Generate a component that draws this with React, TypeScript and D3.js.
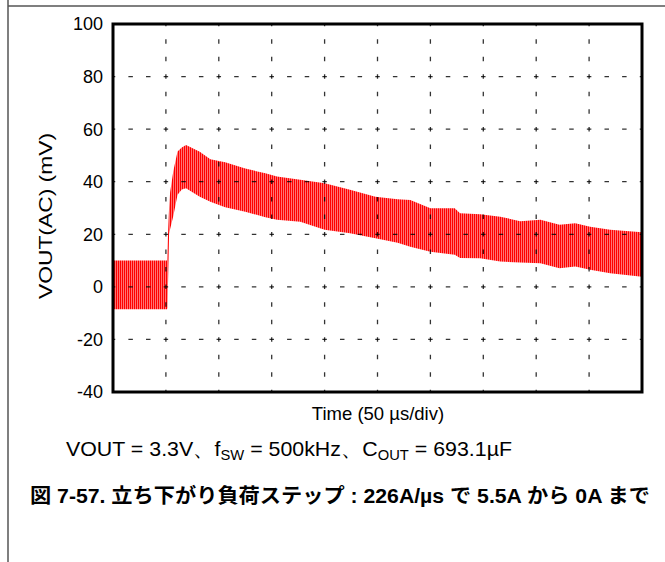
import React from 'react';
import * as d3 from 'd3';

const timeUs = [0, 51, 51.5, 53, 54, 57, 61, 65, 69, 82, 92, 106, 125, 144, 155, 177, 200, 224, 248, 269, 281, 300, 323, 328, 347, 366, 385, 404, 422, 437, 451, 470, 500];
const upperMv = [10, 10, 15, 30, 36, 44, 51.5, 53, 54, 51.4, 48.5, 47.4, 45, 43.2, 42, 40.7, 39.4, 36.9, 34.3, 33.3, 33, 29.9, 29.9, 28, 27.6, 26.7, 25, 25.5, 23.6, 24.2, 22.9, 21.7, 20.8];
const lowerMv = [-8.5, -8.5, -8, 20, 22, 27, 35, 37, 37.5, 34.3, 32.4, 30.3, 28.6, 26.5, 25.5, 24.8, 21.7, 20.4, 18.5, 16.8, 15.3, 13.4, 12.2, 11, 10.9, 9.6, 9.3, 9, 7.1, 7.7, 6.5, 5.2, 3.8];
const yTicks = [-40, -20, 0, 20, 40, 60, 80, 100];
const xGrid = [0, 50, 100, 150, 200, 250, 300, 350, 400, 450, 500];

const W = 665;
const H = 562;
const plot = { left: 113, top: 24, right: 642, bottom: 392 };

export default function App() {
  const x = d3.scaleLinear().domain([0, 500]).range([plot.left, plot.right]);
  const y = d3.scaleLinear().domain([-40, 100]).range([plot.bottom, plot.top]);
  const data = timeUs.map((t, i) => ({ t, hi: upperMv[i], lo: lowerMv[i] }));
  const area = d3
    .area<{ t: number; hi: number; lo: number }>()
    .x((d) => x(d.t))
    .y0((d) => y(d.lo))
    .y1((d) => y(d.hi))
    .curve(d3.curveLinear);
  const xStep = x(50) - x(0);
  const yStep = y(0) - y(20);
  const px = xStep / 3;
  const py = yStep / 3;
  const font = "'Liberation Sans', Arial, sans-serif";
  return (
    <svg width={W} height={H} style={{ position: 'absolute', left: 0, top: 0, background: '#fff' }}>
      <defs>
        <pattern id="rip" width={2} height={10} patternUnits="userSpaceOnUse">
          <rect width={2} height={10} fill="#ff0000" />
          <rect x={1.25} width={0.75} height={10} fill="#ff9a9a" />
        </pattern>
        <clipPath id="pc">
          <rect x={plot.left} y={plot.top} width={plot.right - plot.left} height={plot.bottom - plot.top} />
        </clipPath>
      </defs>
      {/* page frame */}
      <line x1={8} x2={W} y1={6} y2={6} stroke="#555" strokeWidth={1.5} />
      <line x1={8} x2={8} y1={0} y2={H} stroke="#555" strokeWidth={1.5} />

      <g clipPath="url(#pc)">
        <path d={area(data) || ''} fill="url(#rip)" />
        {yTicks.slice(1, -1).map((v) => (
          <line key={'h' + v} x1={plot.left} x2={plot.right} y1={y(v)} y2={y(v)} stroke="#000" strokeOpacity={0.8}
            strokeWidth={1.3} strokeDasharray={`4.5 ${px - 4.5}`} strokeDashoffset={2.25} />
        ))}
        {xGrid.slice(1, -1).map((t) => (
          <line key={'v' + t} x1={x(t)} x2={x(t)} y1={plot.top} y2={plot.bottom} stroke="#000" strokeOpacity={0.8}
            strokeWidth={1.3} strokeDasharray={`4.5 ${py - 4.5}`} strokeDashoffset={2.25} />
        ))}
      </g>
      <rect x={plot.left} y={plot.top} width={plot.right - plot.left} height={plot.bottom - plot.top}
        fill="none" stroke="#000" strokeWidth={3} />

      {yTicks.map((v) => (
        <text key={'yt' + v} x={103} y={y(v)} dy="0.36em" textAnchor="end" fontFamily={font} fontSize={18} fill="#000">
          {v}
        </text>
      ))}
      <text transform={`translate(52, ${216}) rotate(-90)`} textAnchor="middle"
        fontFamily={font} fontSize={18.5} fill="#000" textLength={166} lengthAdjust="spacingAndGlyphs">
        VOUT(AC) (mV)
      </text>
      <text x={378} y={420} textAnchor="middle" fontFamily={font} fontSize={18.5} fill="#000">
        Time (50 µs/div)
      </text>
      <text x={66} y={456} fontFamily={font} fontSize={21} fill="#000" textLength={446} lengthAdjust="spacingAndGlyphs">
        VOUT = 3.3V、f<tspan fontSize={14.5} dy={4}>SW</tspan><tspan dy={-4}> = 500kHz、C</tspan>
        <tspan fontSize={14.5} dy={4}>OUT</tspan><tspan dy={-4}> = 693.1µF</tspan>
      </text>
      <text x={30} y={503} fontFamily="'Liberation Sans', 'Noto Sans CJK JP', sans-serif" fontWeight="bold" fontSize={20}
        fill="#000" textLength={620} lengthAdjust="spacingAndGlyphs">
        図 7-57. 立ち下がり負荷ステップ : 226A/µs で 5.5A から 0A まで
      </text>
    </svg>
  );
}
